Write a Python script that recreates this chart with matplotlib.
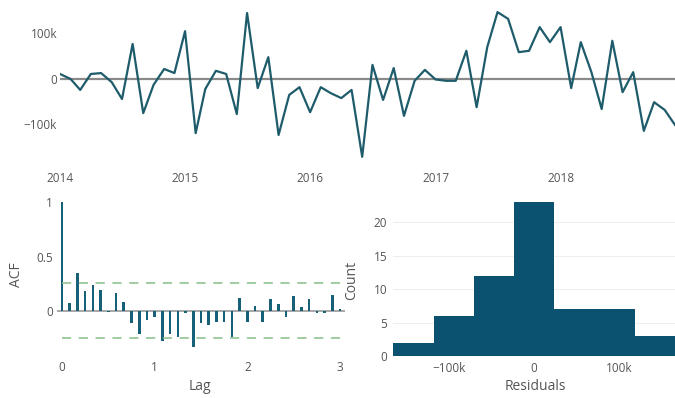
import numpy as np
import pandas as pd
import matplotlib
matplotlib.use("Agg")
import matplotlib.pyplot as plt
from matplotlib.ticker import FuncFormatter

plt.rcParams["font.family"] = ["Open Sans", "DejaVu Sans"]

# monthly residuals, Jan 2014 - Dec 2018 (thousands)
months = pd.date_range("2014-01-01", periods=60, freq="MS")
resid_k = [11, 0, -24, 11, 13, -7, -44, 77, -75, -13, 22, 13,
           105, -119, -22, 18, 11, -77, 145, -20, 48, -123, -35, -18,
           -73, -18, -31, -42, -24, -171, 31, -46, 24, -81, -4, 20,
           -1, -4, -4, 62, -62, 70, 147, 132, 59, 62, 114, 81,
           114, -20, 81, 15, -66, 84, -29, 15, -114, -51, -68, -101]
residuals = np.array(resid_k) * 1000

# autocorrelation by lag (lag in years, monthly steps)
lags = np.arange(37) / 12
acf = [1.0, 0.076, 0.35, 0.18, 0.24, 0.19, -0.01, 0.17, 0.086, -0.107,
       -0.214, -0.083, -0.06, -0.275, -0.214, -0.24, -0.02, -0.33, -0.107,
       -0.128, -0.098, -0.098, -0.24, 0.122, -0.098, 0.046, -0.098, 0.107,
       0.067, -0.052, 0.138, 0.037, 0.107, -0.02, -0.02, 0.144, 0.02]
conf = 0.253

# histogram of residuals
bin_edges = np.array([-166.25, -118.75, -71.25, -23.75, 23.75, 71.25, 118.75, 166.25]) * 1000
counts = [2, 6, 12, 23, 7, 7, 3]

line_col = "#1f5c6b"
bar_col = "#0b5270"
acf_col = "#17607a"
txt_col = "#555555"
W, H = 675, 398

def kfmt(v, pos):
    if v == 0:
        return "0"
    s = f"{abs(v) / 1000:.0f}k"
    return ("\u2212" + s) if v < 0 else s

def clean(ax):
    for s in ax.spines.values():
        s.set_visible(False)
    ax.tick_params(length=0, labelsize=8.5, labelcolor=txt_col)

fig = plt.figure(figsize=(6.75, 3.98), dpi=100)

# top: residual series
ax1 = fig.add_axes([60 / W, 1 - 165 / H, (675 - 60) / W, 160 / H])
ax1.axhline(0, color="#8a8a8a", lw=1.6, zorder=1)
ax1.plot(months, residuals, color=line_col, lw=1.6, zorder=2)
ax1.set_xlim(months[0], months[-1])
ax1.set_ylim(-189000, 162600)
ax1.set_yticks([-100000, 0, 100000])
ax1.yaxis.set_major_formatter(FuncFormatter(kfmt))
ax1.set_xticks(pd.date_range("2014-01-01", periods=5, freq="YS"))
ax1.set_xticklabels(["2014", "2015", "2016", "2017", "2018"])
clean(ax1)
ax1.tick_params(axis="x", pad=5)
ax1.tick_params(axis="y", pad=2)

# bottom left: ACF
ax2 = fig.add_axes([57.4 / W, 1 - 352.2 / H, 287.2 / W, 155.2 / H])
ax2.axhline(0, color="#999999", lw=1.2, zorder=1)
ax2.bar(lags, acf, width=0.028, color=acf_col, zorder=2)
for c in (conf, -conf):
    ax2.plot([0, 3], [c, c], color="#86bd86", lw=1.1,
             linestyle=(0, (6, 5)), zorder=3)
ax2.set_xlim(-0.05, 3.05)
ax2.set_ylim(-0.38, 1.05)
ax2.set_yticks([0, 0.5, 1])
ax2.set_yticklabels(["0", "0.5", "1"])
ax2.set_xticks([0, 1, 2, 3])
clean(ax2)
ax2.tick_params(axis="x", pad=6)
ax2.tick_params(axis="y", pad=3)
fig.text(200 / W, 1 - 387 / H, "Lag", ha="center", va="center", fontsize=10, color=txt_col)
fig.text(17 / W, 1 - 275 / H, "ACF", ha="center", va="center", fontsize=10,
         color=txt_col, rotation=90)

# bottom right: histogram
ax3 = fig.add_axes([392.7 / W, 1 - 356 / H, (675 - 392.7) / W, 161.3 / H])
ax3.bar(bin_edges[:-1], counts, width=np.diff(bin_edges), align="edge",
        color=bar_col, zorder=2)
ax3.set_xlim(bin_edges[0] - 800, bin_edges[-1])
ax3.set_ylim(0, 24.15)
ax3.set_yticks([0, 5, 10, 15, 20])
ax3.set_xticks([-100000, 0, 100000])
ax3.xaxis.set_major_formatter(FuncFormatter(kfmt))
ax3.grid(axis="y", color="#eeeeee", lw=0.8, zorder=0)
ax3.set_axisbelow(True)
clean(ax3)
ax3.tick_params(axis="x", pad=4)
ax3.tick_params(axis="y", pad=4)
fig.text(535 / W, 1 - 387 / H, "Residuals", ha="center", va="center", fontsize=10, color=txt_col)
fig.text(352 / W, 1 - 280 / H, "Count", ha="center", va="center", fontsize=10,
         color=txt_col, rotation=90)

fig.savefig("out.png", dpi=100)
